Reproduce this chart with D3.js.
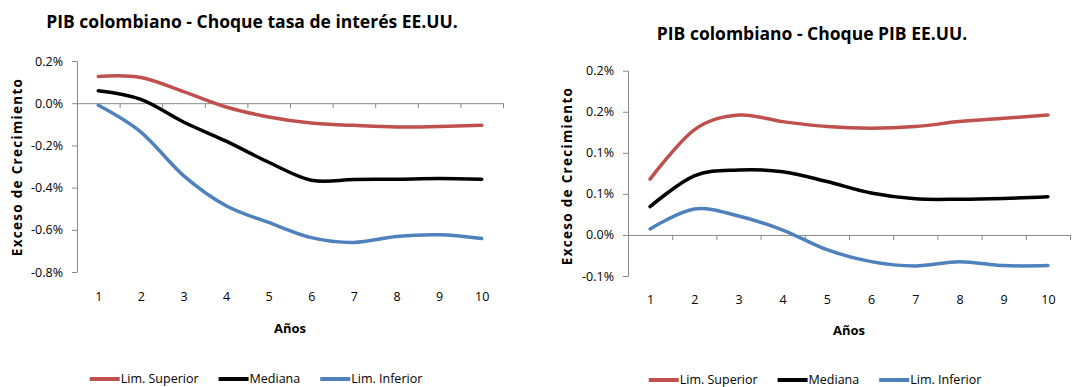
<!DOCTYPE html>
<html>
<head>
<meta charset="utf-8">
<script src="https://cdn.jsdelivr.net/npm/d3@7"></script>
<style>
  body { margin: 0; background: #fff; }
  text { font-family: "Open Sans", sans-serif; fill: #000; }
</style>
</head>
<body>
<svg id="graph-svg" width="1086" height="387"></svg>
<script>
// --- data (values in %) ---
var years = [1, 2, 3, 4, 5, 6, 7, 8, 9, 10];
var series_names = ['Lim. Superior', 'Mediana', 'Lim. Inferior'];
var series_colors = ['#c0504d', '#000000', '#4f81bd'];

// chart 1: choque tasa de interes
var tasa_superior = [0.127, 0.122, 0.055, -0.018, -0.065, -0.094, -0.105, -0.113, -0.110, -0.105];
var tasa_mediana  = [0.059, 0.018, -0.089, -0.180, -0.280, -0.365, -0.362, -0.360, -0.357, -0.360];
var tasa_inferior = [-0.010, -0.137, -0.343, -0.486, -0.565, -0.637, -0.660, -0.632, -0.624, -0.641];
var tasa_ticks = [0.2, 0.0, -0.2, -0.4, -0.6, -0.8];
var tasa_tick_labels = ['0.2%', '0.0%', '-0.2%', '-0.4%', '-0.6%', '-0.8%'];

// chart 2: choque PIB
var pib_superior = [0.068, 0.128, 0.146, 0.138, 0.132, 0.130, 0.132, 0.138, 0.142, 0.146];
var pib_mediana  = [0.0345, 0.072, 0.079, 0.077, 0.065, 0.051, 0.044, 0.0435, 0.0445, 0.0466];
var pib_inferior = [0.0073, 0.0316, 0.0231, 0.006, -0.018, -0.0325, -0.0377, -0.0325, -0.0373, -0.0373];
var pib_ticks = [0.2, 0.15, 0.1, 0.05, 0.0, -0.05];
var pib_tick_labels = ['0.2%', '0.2%', '0.1%', '0.1%', '0.0%', '-0.1%'];

var axis_color = '#898989';

var draw_chart = function(svg, opts) {
    var x = d3.scaleLinear()
        .domain([0.5, years.length + 0.5])
        .range([opts.left, opts.right]);
    var y = d3.scaleLinear()
        .domain([d3.min(opts.ticks), d3.max(opts.ticks)])
        .range([opts.bottom, opts.top]);

    var g = svg.append('g');

    // y axis
    var yAxis = d3.axisLeft(y)
        .tickValues(opts.ticks)
        .tickFormat(function(d, i) { return opts.tick_labels[i]; })
        .tickSize(5)
        .tickSizeOuter(0)
        .tickPadding(9);
    var ya = g.append('g')
        .attr('transform', 'translate(' + opts.left + ',0)')
        .call(yAxis);
    ya.selectAll('path, line').attr('stroke', axis_color);
    ya.selectAll('text')
        .style('font-size', '12.5px')
        .style('font-family', '"Open Sans", sans-serif')
        .attr('fill', '#000');

    // x axis line at zero, ticks between categories
    var boundaries = d3.range(1.5, years.length + 1, 1);
    var xAxis = d3.axisBottom(x)
        .tickValues(boundaries)
        .tickFormat('')
        .tickSize(5)
        .tickSizeOuter(0);
    var xa = g.append('g')
        .attr('transform', 'translate(0,' + y(0) + ')')
        .call(xAxis);
    xa.selectAll('path, line').attr('stroke', axis_color);

    // category labels under the plot
    var xl = g.append('g')
        .attr('transform', 'translate(0,' + opts.label_y + ')')
        .call(d3.axisBottom(x).tickValues(years).tickSize(0).tickPadding(0));
    xl.select('.domain').remove();
    xl.selectAll('text')
        .attr('dy', '0.32em')
        .style('font-size', '12.5px')
        .style('font-family', '"Open Sans", sans-serif')
        .attr('fill', '#000');

    // series
    var line = d3.line()
        .x(function(d, i) { return x(years[i]); })
        .y(function(d) { return y(d); })
        .curve(d3.curveCardinal.tension(0));

    g.append('g').selectAll('path')
        .data(opts.series)
        .enter()
        .append('path')
        .attr('d', line)
        .attr('fill', 'none')
        .attr('stroke', function(d, i) { return series_colors[i]; })
        .attr('stroke-width', 3.5)
        .attr('stroke-linecap', 'round');

    // titles
    g.append('text')
        .attr('x', opts.title_x)
        .attr('y', opts.title_y)
        .attr('text-anchor', 'middle')
        .style('font-size', '17.5px')
        .style('font-weight', 'bold')
        .text(opts.title);

    g.append('text')
        .attr('x', (opts.left + opts.right) / 2)
        .attr('y', opts.xtitle_y)
        .attr('dy', '0.35em')
        .attr('text-anchor', 'middle')
        .style('font-size', '13px')
        .style('font-weight', 'bold')
        .text('Años');

    g.append('text')
        .attr('transform', 'translate(' + opts.ytitle_x + ',' + opts.ytitle_y + ') rotate(-90)')
        .attr('dy', '0.35em')
        .attr('text-anchor', 'middle')
        .style('font-size', '13.5px')
        .style('font-weight', 'bold')
        .style('letter-spacing', '1.3px')
        .text('Exceso de Crecimiento');

    // legend
    var legend = g.append('g');
    var pos = 0;
    series_names.forEach(function(name, i) {
        var item = legend.append('g').attr('transform', 'translate(' + pos + ',0)');
        item.append('line')
            .attr('x1', 0).attr('x2', 30)
            .attr('y1', 0).attr('y2', 0)
            .attr('stroke', series_colors[i])
            .attr('stroke-width', 4);
        var t = item.append('text')
            .attr('x', 31)
            .attr('dy', '0.35em')
            .style('font-size', '12.5px')
            .text(name);
        pos += 31 + t.node().getComputedTextLength() + 20;
    });
    pos -= 20;
    legend.attr('transform', 'translate(' + (opts.legend_cx - pos / 2) + ',' + opts.legend_y + ')');
};

var svg = d3.select('svg#graph-svg');

draw_chart(svg, {
    title: 'PIB colombiano - Choque tasa de interés EE.UU.',
    series: [tasa_superior, tasa_mediana, tasa_inferior],
    ticks: tasa_ticks,
    tick_labels: tasa_tick_labels,
    left: 77, right: 503, top: 61, bottom: 272,
    label_y: 297,
    title_x: 252, title_y: 28,
    xtitle_y: 328,
    ytitle_x: 17, ytitle_y: 167,
    legend_cx: 256, legend_y: 379
});

draw_chart(svg, {
    title: 'PIB colombiano - Choque PIB EE.UU.',
    series: [pib_superior, pib_mediana, pib_inferior],
    ticks: pib_ticks,
    tick_labels: pib_tick_labels,
    left: 628, right: 1070, top: 70.7, bottom: 276,
    label_y: 300,
    title_x: 812, title_y: 40,
    xtitle_y: 330,
    ytitle_x: 567, ytitle_y: 176,
    legend_cx: 815, legend_y: 380
});
</script>
</body>
</html>
